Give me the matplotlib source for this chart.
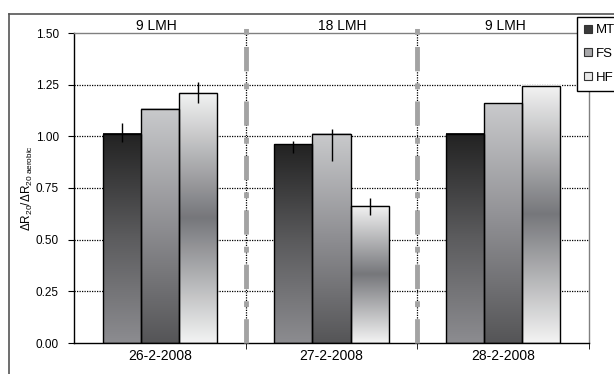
import numpy as np
import matplotlib.pyplot as plt
from matplotlib.colors import LinearSegmentedColormap
from matplotlib.patches import Patch
from matplotlib.lines import Line2D

plt.rcParams['font.family'] = ['Liberation Sans', 'DejaVu Sans']
plt.rcParams['mathtext.fontset'] = 'custom'
plt.rcParams['mathtext.rm'] = 'Liberation Sans'
plt.rcParams['mathtext.it'] = 'Liberation Sans:italic'
plt.rcParams['mathtext.default'] = 'regular'

dates = ["26-2-2008", "27-2-2008", "28-2-2008"]
flux_labels = ["9 LMH", "18 LMH", "9 LMH"]
flux_pos = [-0.02, 1.06, 2.01]
series = ["MT", "FS", "HF"]

mt = [1.013, 0.961, 1.013]
fs = [1.134, 1.013, 1.160]
hf = [1.210, 0.665, 1.245]
values = [mt, fs, hf]

# error bars (lower, upper); 0 where no bar drawn
mt_err = [[0.040, 0.044, 0.0], [0.053, 0.016, 0.0]]
fs_err = [[0.0, 0.130, 0.0], [0.0, 0.024, 0.0]]
hf_err = [[0.050, 0.045, 0.0], [0.052, 0.035, 0.0]]
errors = [mt_err, fs_err, hf_err]

# gradients, listed bottom -> top
cmaps = [
    LinearSegmentedColormap.from_list("mt", ["#8c8c90", "#5c5c5e", "#222222"]),
    LinearSegmentedColormap.from_list("fs", ["#555557", "#8e8e92", "#c9cacc"]),
    LinearSegmentedColormap.from_list("hf", ["#f3f3f3", "#76777b", "#f3f3f3"]),
]
legend_colors = ["#3a3a3a", "#a8a8aa", "#e8e8e8"]

fig = plt.figure(figsize=(6.14, 3.74), dpi=100)
ax = fig.add_axes([74/614, 31/374, 515/614, 310/374])

x = np.arange(len(dates))
w = 0.222
grad = np.linspace(0, 1, 256).reshape(-1, 1)

for i, (vals, cm) in enumerate(zip(values, cmaps)):
    xs = x + (i - 1) * w
    for xc, v in zip(xs, vals):
        ax.imshow(grad, extent=[xc - w/2, xc + w/2, 0, v], origin='lower',
                  aspect='auto', cmap=cm, zorder=2, interpolation='bilinear')
    ax.bar(xs, vals, w, fill=False, edgecolor='black', linewidth=1.0, zorder=3)
    err = np.array(errors[i])
    mask = err.sum(axis=0) > 0
    ax.errorbar(xs[mask], np.array(vals)[mask], yerr=err[:, mask], fmt='none',
                ecolor='black', elinewidth=1.0, capsize=0, zorder=4)

ax.set_xlim(-0.5, 2.5)
ax.set_ylim(0, 1.5)
ax.set_yticks([0, 0.25, 0.5, 0.75, 1.0, 1.25, 1.5])
ax.set_yticklabels(["0.00", "0.25", "0.50", "0.75", "1.00", "1.25", "1.50"], fontsize=8.5)
ax.set_xticks(x)
ax.set_xticklabels(dates, fontsize=10)
ax.tick_params(axis='x', length=0, pad=4)
ax.set_xticks([0.5, 1.5, 2.5], minor=True)
ax.tick_params(axis='x', which='minor', length=4, direction='out')
ax.tick_params(axis='y', length=4, direction='out', pad=7)

for yv in [0.25, 0.5, 0.75, 1.0, 1.25]:
    ax.axhline(yv, color='black', linestyle=(0, (1, 1)), linewidth=0.9, zorder=1)

# flux regime separators
for xb in [0.5, 1.5]:
    ax.plot([xb, xb], [0, 1.5], color='black', linestyle=(0, (1, 1)), linewidth=0.9, zorder=1)
    ax.plot([xb, xb], [0, 1.57], color='#a3a3a3', linewidth=3.5,
            linestyle=(0, (5, 2.5, 1.2, 2.5)), clip_on=False, zorder=5)

for xp, lbl in zip(flux_pos, flux_labels):
    ax.text(xp, 1.535, lbl, ha='center', va='center', fontsize=10, clip_on=False)

ax.spines['left'].set_color('black')
ax.spines['bottom'].set_color('black')
ax.spines['top'].set_color('#808080')
ax.spines['right'].set_color('#808080')
for s in ax.spines.values():
    s.set_linewidth(1.0)

ax.set_ylabel(r"$\Delta$R$_{20}$/$\Delta$R$_{20\ aerobic}$", fontsize=8.5)
ax.yaxis.set_label_coords((35 - 74) / 515, 0.5)

handles = [Patch(facecolor=c, edgecolor='#333333', linewidth=0.8) for c in legend_colors]
leg = fig.legend(handles, series, loc='upper left', bbox_to_anchor=(577/614, 1 - 17/374),
                 fontsize=9.5, frameon=True, fancybox=False, handlelength=0.55,
                 handleheight=0.55, handletextpad=0.3, labelspacing=0.9,
                 borderpad=0.55, borderaxespad=0)
leg.get_frame().set_edgecolor('black')
leg.get_frame().set_linewidth(1.0)
leg.get_frame().set_alpha(1.0)

# outer chart frame
fig.add_artist(Line2D([9/614, 1.0], [1 - 14/374, 1 - 14/374], color='#555555', linewidth=1.2))
fig.add_artist(Line2D([9/614, 9/614], [0.0, 1 - 14/374], color='#555555', linewidth=1.2))

fig.savefig("out.png", dpi=100)
